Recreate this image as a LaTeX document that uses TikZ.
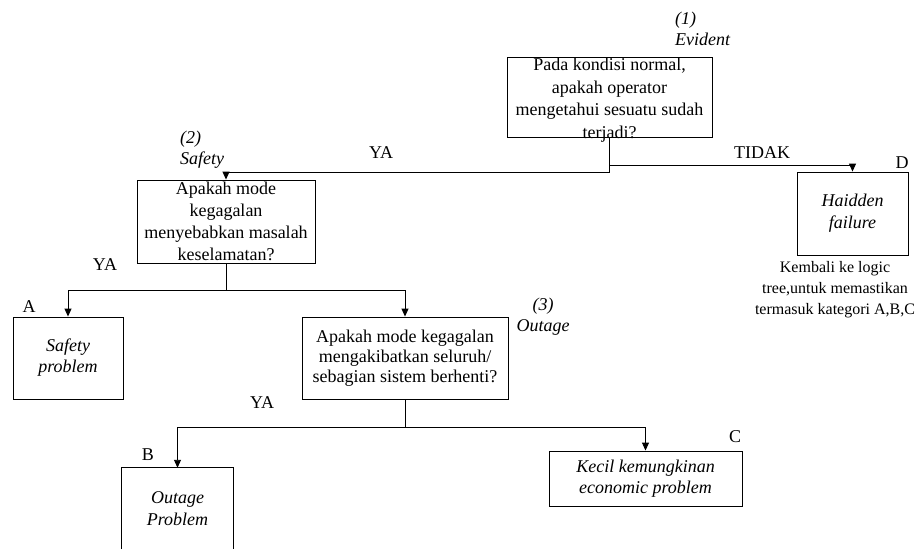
\documentclass[tikz,border=0pt]{standalone}
\usepackage{fontspec}
\setmainfont{Liberation Serif}
\usetikzlibrary{arrows.meta}
% centred block of lines set a little below the node centre
\newcommand\lowered[2]{\raisebox{-#1}{\begin{tabular}{@{}c@{}}#2\end{tabular}}}
\begin{document}
\begin{tikzpicture}[x=1pt,y=-1pt,
  every node/.style={font=\fontsize{18}{22}\selectfont, inner sep=0pt},
  box/.style={draw, line width=0.9pt, align=center},
  lbl/.style={font=\fontsize{18}{21}\selectfont\itshape},
  tag/.style={font=\fontsize{18}{22}\selectfont},
  link/.style={line width=0.9pt},
  arr/.style={line width=0.9pt, -{Triangle[width=7pt,length=8pt]}}
]
\useasboundingbox (0,0) rectangle (917,549);

% decision boxes
\node[box, minimum width=205pt, minimum height=80pt] (q1) at (609.5,97) {};
\node[align=center, font=\fontsize{18}{22.5}\selectfont] (q1t) at ([yshift=-3pt]q1.center)
  {Pada kondisi normal,\\apakah operator\\mengetahui sesuatu sudah\\terjadi?};
\node[box, minimum width=178pt, minimum height=83pt] (q2) at (226,221.5)
  {Apakah mode\\kegagalan\\menyebabkan masalah\\keselamatan?};
\node[box, minimum width=206pt, minimum height=82pt, font=\fontsize{18}{20}\selectfont] (q3) at (405,358)
  {Apakah mode kegagalan\\mengakibatkan seluruh/\\sebagian sistem berhenti?};

% outcome boxes
\node[box, minimum width=110pt, minimum height=82pt, font=\fontsize{18}{21}\selectfont\itshape] (A) at (68,358)
  {\lowered{4pt}{Safety\\problem}};
\node[align=center, minimum width=111pt, minimum height=81pt, font=\fontsize{18}{22}\selectfont\itshape] (B) at (177.5,508.5)
  {Outage\\Problem};
\draw[link] (B.south west) -- (B.north west) -- (B.north east) -- (B.south east);
\node[box, minimum width=193pt, minimum height=55pt, font=\fontsize{18}{21}\selectfont\itshape] (C) at (645.5,478.5)
  {\lowered{1.5pt}{Kecil kemungkinan\\economic problem}};
\node[box, minimum width=111pt, minimum height=83pt, font=\fontsize{18}{22}\selectfont\itshape] (D) at (852.5,213.5)
  {\lowered{3pt}{Haidden\\failure}};

% connectors
\draw[arr] (q1.south) -- ++(0,35) -| (q2.north);
\draw[arr] (q1.south) ++(0,28) -| (D.north);
\draw[arr] (q2.south) -- ++(0,27) -| (A.north);
\draw[arr] (q2.south) ++(0,27) -| (q3.north);
\draw[arr] (q3.south) -- ++(0,28) -| (B.north);
\draw[arr] (q3.south) ++(0,28) -| (C.north);

% question labels
\node[lbl, align=left, anchor=west] (l1) at (675,29) {(1)\\Evident};
\node[lbl, align=left, anchor=west] (l2) at (180,150) {(2)\\Safety};
\node[lbl, align=center] (l3) at (543,317) {(3)\\Outage};

% branch labels
\node[tag] (ya1) at (381,153) {YA};
\node[tag] (tidak) at (762,153) {TIDAK};
\node[tag] (ya2) at (105,265) {YA};
\node[tag] (ya3) at (262,403) {YA};

% category letters
\node[tag] (ta) at (29,307) {A};
\node[tag] (tb) at (148,455) {B};
\node[tag] (tc) at (735,437) {C};
\node[tag] (td) at (902,163) {D};

% note under the hidden-failure box
\node[align=center, font=\fontsize{16}{21}\selectfont] (note) at (835,290)
  {Kembali ke logic\\tree,untuk memastikan\\termasuk kategori A,B,C};
\end{tikzpicture}
\end{document}
